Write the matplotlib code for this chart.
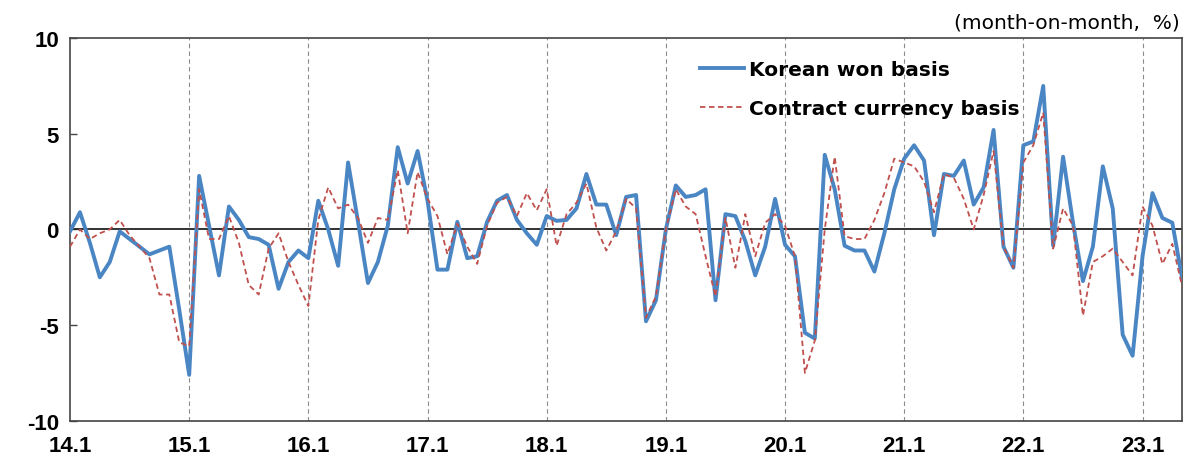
import matplotlib
matplotlib.use("Agg")
import matplotlib.pyplot as plt
import numpy as np

plt.rcParams["font.family"] = ["Liberation Sans", "DejaVu Sans"]
plt.rcParams["axes.unicode_minus"] = False

# monthly export price changes, 2014.01 - 2023.05 (month-on-month, %)
won_basis = [
    -0.1, 0.9, -0.7, -2.5, -1.7, -0.1, -0.5, -0.9, -1.3, -1.1, -0.9, -4.2,
    -7.6, 2.8, 0.2, -2.4, 1.2, 0.5, -0.4, -0.5, -0.8, -3.1, -1.7, -1.1,
    -1.5, 1.5, 0.0, -1.9, 3.5, 0.4, -2.8, -1.7, 0.2, 4.3, 2.4, 4.1,
    1.5, -2.1, -2.1, 0.4, -1.5, -1.4, 0.4, 1.5, 1.8, 0.5, -0.2, -0.8,
    0.7, 0.45, 0.5, 1.1, 2.9, 1.3, 1.3, -0.3, 1.7, 1.8, -4.8, -3.7,
    0.0, 2.3, 1.7, 1.8, 2.1, -3.7, 0.8, 0.7, -0.6, -2.4, -0.9, 1.6,
    -0.8, -1.4, -5.4, -5.7, 3.9, 2.1, -0.85, -1.1, -1.1, -2.2, -0.2, 2.1,
    3.7, 4.4, 3.6, -0.3, 2.9, 2.8, 3.6, 1.3, 2.2, 5.2, -0.9, -2.0,
    4.4, 4.6, 7.5, -0.85, 3.8, 0.35, -2.7, -0.9, 3.3, 1.1, -5.5, -6.6,
    -1.4, 1.9, 0.6, 0.35, -2.6,
]
contract_basis = [
    -0.9, 0.0, -0.5, -0.2, 0.0, 0.5, -0.3, -0.9, -1.5, -3.4, -3.4, -5.9,
    -6.1, 2.1, -0.5, -0.5, 0.7, -0.7, -2.9, -3.4, -1.0, -0.2, -1.7, -2.9,
    -4.0, 0.5, 2.2, 1.1, 1.3, 0.6, -0.7, 0.6, 0.5, 3.1, -0.2, 3.0,
    1.6, 0.7, -1.3, 0.3, -0.9, -1.8, 0.2, 1.4, 1.7, 0.7, 1.9, 1.0,
    2.1, -0.85, 0.8, 1.4, 2.4, 0.1, -1.1, -0.1, 1.6, 1.1, -4.6, -3.5,
    0.0, 2.1, 1.2, 0.8, -1.4, -3.5, 0.6, -2.0, 0.8, -1.4, 0.35, 0.8,
    0.2, -1.4, -7.5, -5.8, 0.0, 3.8, -0.35, -0.5, -0.5, 0.5, 1.9, 3.7,
    3.5, 3.3, 2.5, 0.9, 2.9, 2.7, 1.6, 0.0, 1.8, 4.1, -0.9, -2.0,
    3.5, 4.4, 6.1, -1.0, 1.1, 0.2, -4.5, -1.7, -1.4, -1.0, -1.7, -2.4,
    1.2, 0.2, -1.8, -0.75, -3.0,
]
year_labels = ["14.1", "15.1", "16.1", "17.1", "18.1", "19.1", "20.1", "21.1", "22.1", "23.1"]
y_ticks = [-10, -5, 0, 5, 10]

BLUE = "#4a86c4"
RED = "#c0504d"

x = np.arange(len(won_basis))
year_pos = np.arange(len(year_labels)) * 12

fig = plt.figure(figsize=(11.87, 4.6), dpi=100)
ax = fig.add_axes([0.059, 0.083, 0.937, 0.832])

for pos in year_pos[1:]:
    ax.axvline(pos, color="#8c8c8c", lw=0.8, ls=(0, (4, 3)), zorder=1)
ax.axhline(0, color="#222222", lw=1.3, zorder=2)

ax.plot(x, won_basis, color=BLUE, lw=2.8, label="Korean won basis", zorder=3)
ax.plot(x, contract_basis, color=RED, lw=1.3, ls=(0, (3, 2)),
        label="Contract currency basis", zorder=4)

ax.set_xlim(0, len(won_basis) - 1)
ax.set_ylim(-10, 10)
ax.set_yticks(y_ticks)
ax.set_xticks(year_pos)
ax.set_xticklabels(year_labels)
ax.tick_params(axis="y", direction="in", length=5, width=1, color="#444444",
               labelsize=16, pad=8)
ax.tick_params(axis="x", length=0, labelsize=16, pad=10)
for lab in ax.get_xticklabels() + ax.get_yticklabels():
    lab.set_fontweight("bold")
for sp in ax.spines.values():
    sp.set_color("#444444")
    sp.set_linewidth(1.2)

leg = ax.legend(loc="upper left", bbox_to_anchor=(0.55, 0.99), frameon=False,
                prop={"family": "DejaVu Sans", "weight": "bold", "size": 14.5},
                handlelength=2.2, handletextpad=0.25, labelspacing=1.0)

fig.text(0.994, 0.95, "(month-on-month,  %)", ha="right", va="center",
         fontsize=14.5, family="DejaVu Sans")

fig.savefig("out.png", dpi=100)
